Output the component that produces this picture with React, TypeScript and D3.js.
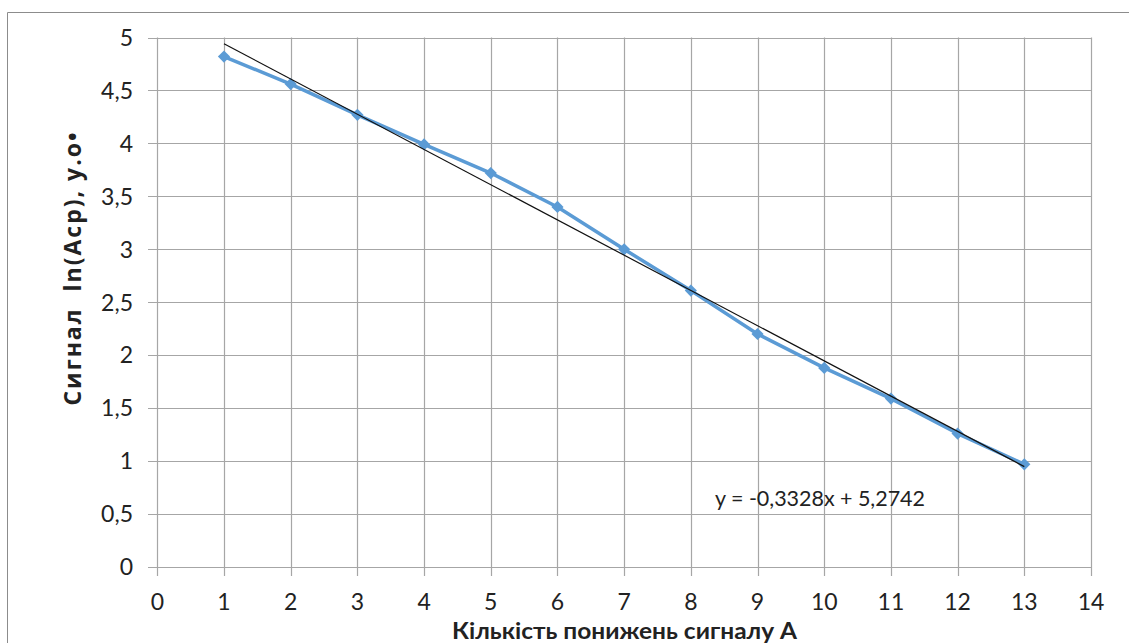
import React from "react";
import * as d3 from "d3";

// Measured signal per reduction step
const steps = [1, 2, 3, 4, 5, 6, 7, 8, 9, 10, 11, 12, 13];
const lnSignal = [4.82, 4.56, 4.27, 3.99, 3.72, 3.40, 3.00, 2.61, 2.20, 1.88, 1.59, 1.26, 0.97];

// Linear trend coefficients
const trendSlope = -0.3328;
const trendIntercept = 5.2742;
const trendLabel = "y = -0,3328x + 5,2742";

const xTicks = d3.range(0, 15);
const yTicks = d3.range(0, 5.01, 0.5);

const xTitle = "Кількість понижень сигналу А";
const yTitle = "Сигнал  ln(Acp), у.о•";

const W = 1129;
const H = 643;

const fmt = (v: number) => String(v).replace(".", ",");

export default function App() {
  const x = d3.scaleLinear().domain([0, 14]).range([157.3, 1091]);
  const y = d3.scaleLinear().domain([0, 5]).range([567, 37.5]);

  const line = d3
    .line<number>()
    .x((_, i) => x(steps[i]))
    .y((d) => y(d));

  const x0 = steps[0];
  const x1 = steps[steps.length - 1];
  const trend = d3.line<number>().x((d) => x(d)).y((d) => y(trendSlope * d + trendIntercept));

  const diamond = d3.symbol().type(d3.symbolDiamond2).size(95)();

  const grid = "#a6a6a6";
  const font = "Lato, Open Sans, sans-serif";

  return (
    <svg
      width={W}
      height={H}
      style={{ position: "absolute", left: 0, top: 0, background: "#fff" }}
      fontFamily={font}
    >
      <rect x={0} y={0} width={W} height={H} fill="#fff" />
      {/* chart frame */}
      <path d={`M7.5,${H} V12.5 H${W}`} fill="none" stroke="#8c8c8c" strokeWidth={1} />

      {/* horizontal grid and y ticks */}
      {yTicks.map((t) => (
        <g key={"y" + t}>
          <line x1={148} x2={x(14)} y1={Math.round(y(t)) + 0.5} y2={Math.round(y(t)) + 0.5} stroke={grid} strokeWidth={1.2} />
          <text x={133} y={y(t)} dy="0.36em" textAnchor="end" fontSize={23} fill="#222">
            {fmt(t)}
          </text>
        </g>
      ))}

      {/* vertical grid and x ticks */}
      {xTicks.map((t) => (
        <g key={"x" + t}>
          <line x1={Math.round(x(t)) + 0.5} x2={Math.round(x(t)) + 0.5} y1={y(5)} y2={576} stroke={grid} strokeWidth={1.2} />
          <text x={x(t)} y={610} textAnchor="middle" fontSize={23} fill="#222">
            {t}
          </text>
        </g>
      ))}

      {/* data series */}
      <path d={line(lnSignal) || ""} fill="none" stroke="#5b9bd5" strokeWidth={3.5} strokeLinejoin="round" />
      {lnSignal.map((v, i) => (
        <path key={"m" + i} d={diamond || ""} transform={`translate(${x(steps[i])},${y(v)})`} fill="#5b9bd5" />
      ))}

      {/* linear trend */}
      <path d={trend([x0, x1]) || ""} fill="none" stroke="#111" strokeWidth={1.2} />
      <text x={715} y={506} fontSize={21.5} fill="#222" textLength={210} lengthAdjust="spacing">
        {trendLabel}
      </text>

      {/* axis titles */}
      <text
        x={452}
        y={639}
        fontSize={23.5}
        fontWeight="bold"
        fill="#222"
        textLength={345}
        lengthAdjust="spacingAndGlyphs"
      >
        {xTitle}
      </text>
      <text
        transform={`translate(81,268) rotate(-90)`}
        textAnchor="middle"
        fontFamily="Open Sans, sans-serif"
        fontSize={23}
        fontWeight="bold"
        letterSpacing={2}
        fill="#222"
        style={{ whiteSpace: "pre" }}
      >
        {yTitle}
      </text>
    </svg>
  );
}
